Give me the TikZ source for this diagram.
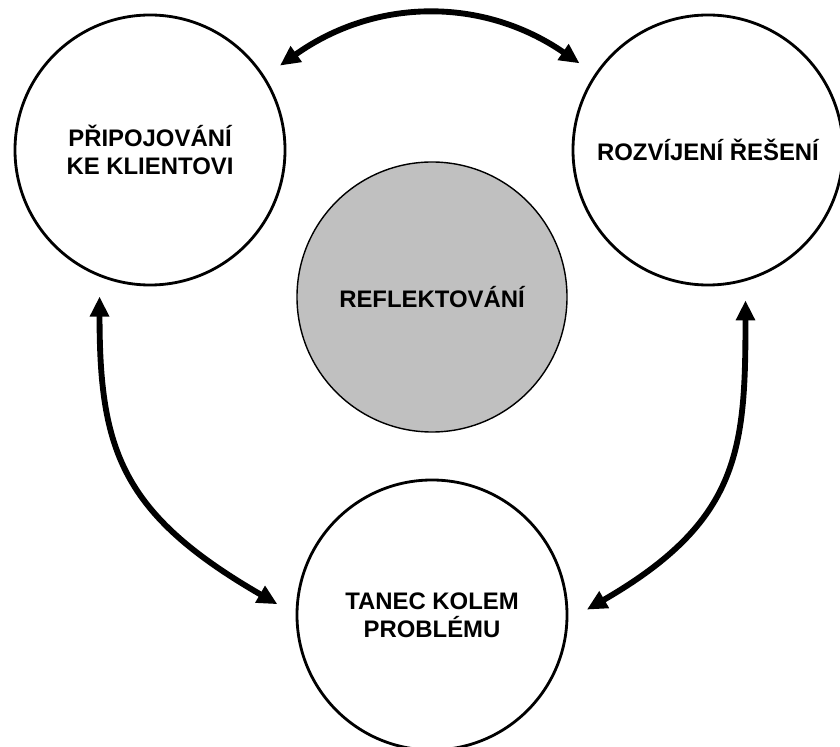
\documentclass[tikz,border=0pt]{standalone}
\usepackage{fontspec}
\setmainfont{Liberation Sans}
\usetikzlibrary{arrows.meta}
\definecolor{corefill}{HTML}{C0C0C0}

\begin{document}
\begin{tikzpicture}[x=0.03cm,y=0.03cm,
                    phase/.style={draw,circle,line width=2.4pt,minimum size=8.1cm,inner sep=0pt,outer sep=0.6cm,align=center,font=\fontsize{20.4}{23.9}\selectfont\bfseries},
                    core/.style={draw,circle,line width=1.2pt,fill=corefill,minimum size=8.1cm,inner sep=0pt,align=center,font=\fontsize{20.4}{23.9}\selectfont\bfseries},
                    link/.style={line width=5pt,{Triangle[length=0.6cm,width=0.55cm]}-{Triangle[length=0.6cm,width=0.55cm]}}]
      \useasboundingbox (0,0) rectangle (840,746);
      \foreach \n/\x/\y/\t in {pl/150/596/{PŘIPOJOVÁNÍ\\KE KLIENTOVI},rs/708/596/{ROZVÍJENÍ ŘEŠENÍ},tk/432/131/{TANEC KOLEM\\PROBLÉMU}} {
        \node[phase] (\n) at (\x,\y) {\t};
      }
      \node[core] (rf) at (432,449) {REFLEKTOVÁNÍ};

      \draw[link] (pl.33) to[bend left=35] (rs.146);
      \draw[link] (pl.251) to[out=270,in=150,out looseness=1.1,in looseness=1.3] (tk.176);
      \draw[link] (rs.284) to[out=270,in=30,out looseness=1.1,in looseness=1.3] (tk.2);
    \end{tikzpicture}
\end{document}
